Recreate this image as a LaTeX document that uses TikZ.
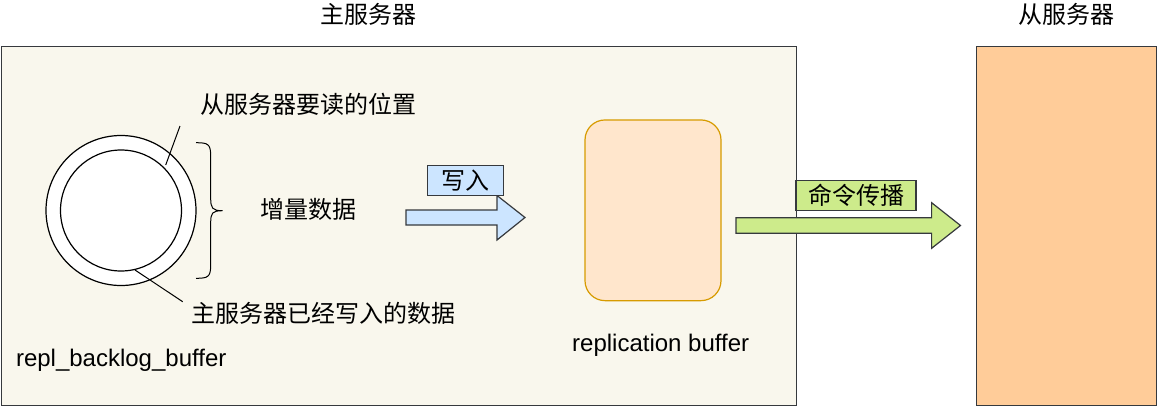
\documentclass[tikz,border=0pt]{standalone}
\usepackage{fontspec}
\setmainfont{Liberation Sans}
\newfontfamily\cjk{Noto Sans CJK SC}
\definecolor{mainfill}{HTML}{F9F7ED}
\definecolor{darkline}{HTML}{36393D}
\definecolor{bufFill}{HTML}{FFE6CC}
\definecolor{bufLine}{HTML}{D79B00}
\definecolor{blueFill}{HTML}{CCE5FF}
\definecolor{greenFill}{HTML}{CDEB8B}
\definecolor{slaveFill}{HTML}{FFCC99}
\begin{document}
\begin{tikzpicture}[x=1pt,y=-1pt,
  lbl/.style={inner sep=0pt, font=\fontsize{24}{28}\selectfont},
  cjklbl/.style={inner sep=0pt, font=\fontsize{24}{28}\selectfont\cjk},
  frame/.style={draw=darkline, line width=1.2pt, inner sep=0pt},
  tagbox/.style={frame, cjklbl, minimum height=30pt},
  bigarrow/.style={draw=darkline, line width=1.2pt},
  ring/.style={circle, draw=black, fill=white, line width=1.2pt, inner sep=0pt},
  thin/.style={draw=black, line width=1pt}]
\useasboundingbox (0,0) rectangle (1157,407);
% main server and slave server
\node[frame, fill=mainfill, minimum width=795pt, minimum height=359.3pt, anchor=north west] (master) at (1,45.7) {};
\node[frame, fill=slaveFill, minimum width=180pt, minimum height=359.3pt, anchor=north west] (slave) at (975.7,45.7) {};
\node[cjklbl] (mtitle) at (368,14) {主服务器};
\node[cjklbl] (stitle) at (1066,14) {从服务器};
% backlog ring
\node[ring, minimum size=150pt] (outer) at (121,210.5) {};
\node[ring, minimum size=121pt] (inner) at (121,210.5) {};
\node[cjklbl] (readpos) at (308,104) {从服务器要读的位置};
\node[cjklbl] (incr) at (308.3,209) {增量数据};
\node[cjklbl] (written) at (323.4,313) {主服务器已经写入的数据};
\node[lbl] (backlog) at (121.2,360) {repl\_backlog\_buffer};
\coordinate (rpA) at (180,126);
\coordinate (rpB) at (165.7,165);
\coordinate (wrA) at (135,270);
\coordinate (wrB) at (182.7,301.7);
\draw[thin] (rpA) -- (rpB);
\draw[thin] (wrA) -- (wrB);
% brace
\draw[thin] (196,142.7) .. controls (208,142.7) and (210.7,144) .. (210.7,156)
  -- (210.7,198) .. controls (210.7,208) and (212,210.7) .. (222.7,210.7)
  .. controls (212,210.7) and (210.7,213) .. (210.7,223)
  -- (210.7,265) .. controls (210.7,277) and (208,278.3) .. (196,278.3);
% replication buffer
\node[draw=bufLine, fill=bufFill, line width=1.2pt, rounded corners=20pt, minimum width=136pt, minimum height=180.7pt, inner sep=0pt] (repbuf) at (653,210.3) {};
\node[lbl] (replabel) at (660.7,345) {replication buffer};
% write arrow
\draw[bigarrow, fill=blueFill] (406,210) -- (497,210) -- (497,195.5) -- (525,217.5) -- (497,240) -- (497,225) -- (406,225) -- cycle;
\node[tagbox, fill=blueFill, minimum width=75.5pt] (wtag) at (465.5,180.7) {写入};
% propagate arrow
\draw[bigarrow, fill=greenFill] (736,217.7) -- (931.6,217.7) -- (931.6,202.7) -- (960.5,225.5) -- (931.6,248.3) -- (931.6,233.3) -- (736,233.3) -- cycle;
\node[tagbox, fill=greenFill, minimum width=120pt] (ctag) at (856,195.7) {命令传播};
\end{tikzpicture}
\end{document}
